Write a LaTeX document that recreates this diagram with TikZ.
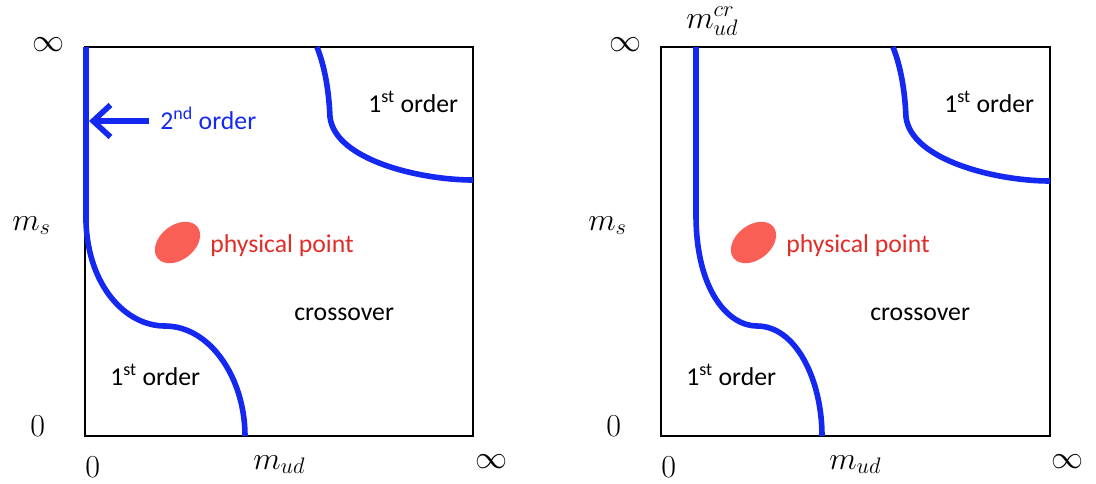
\RequirePackage{fix-cm}
\documentclass[tikz,border=0pt]{standalone}
\usepackage[no-math]{fontspec}
\setmainfont{Carlito}
\usetikzlibrary{arrows.meta}
\definecolor{curveblue}{RGB}{20,40,240}
\definecolor{ptred}{RGB}{225,45,40}
\definecolor{blobred}{RGB}{250,95,85}
\begin{document}
\begin{tikzpicture}[x=0.75pt,y=-0.75pt,
  frame/.style={draw=black,line width=2.1pt},
  transition/.style={draw=curveblue,line width=4.2pt},
  lbl/.style={font=\fontsize{19.3}{23}\selectfont,inner sep=0pt},
  mlbl/.style={font=\fontsize{24}{28}\selectfont,inner sep=0pt},
  blob/.style={fill=blobred},
  pointer/.style={draw=curveblue,line width=4.2pt,-{Straight Barb[length=13pt,width=24pt]}}]
\useasboundingbox (0,0) rectangle (1096,483);

% ---------------- left panel ----------------
\draw[frame] (85,47) rectangle (473,436);
\draw[transition] (86,47) -- (86,222) .. controls (88,285) and (125,326) .. (165,326)
      .. controls (210,326) and (245,378) .. (245,436);
\draw[transition] (317,47) .. controls (326,70) and (329,95) .. (330,117)
      .. controls (335,160) and (420,180) .. (473,180);
\fill[blob,rotate around={38:(177.5,242.5)}] (177.5,242.5) ellipse [x radius=19pt,y radius=13pt];

\node[lbl,anchor=base west,text=curveblue] (so) at (160,129) {2\textsuperscript{nd} order};
\coordinate (soline) at (89,121);
\draw[pointer] (149,121) -- (soline);
\node[lbl,anchor=base west] (ftl) at (368,112) {1\textsuperscript{st} order};
\node[lbl,anchor=base west] (fbl) at (110,385) {1\textsuperscript{st} order};
\node[lbl,anchor=base west,text=ptred] (ppl) at (210,252) {physical point};
\node[lbl,anchor=base west] (col) at (294,320) {crossover};

\node[mlbl] (infl) at (48,45) {$\infty$};
\node[mlbl,anchor=base west] (msl) at (12,230) {$m_s$};
\node[mlbl,anchor=base west] (zl) at (30,436) {$0$};
\node[mlbl,anchor=base west] (zbl) at (85,477) {$0$};
\node[mlbl,anchor=base west] (mudl) at (253,469) {$m_{ud}$};
\node[mlbl] (infbl) at (491,462) {$\infty$};

% ---------------- right panel ----------------
\draw[frame] (661,47) rectangle (1050,436);
\draw[transition] (696,47) -- (696,215) .. controls (696,290) and (728,326) .. (757,326)
      .. controls (796,326) and (822,380) .. (822,436);
\draw[transition] (893,47) .. controls (902,70) and (905,95) .. (906,117)
      .. controls (911,160) and (996,181) .. (1050,181);
\fill[blob,rotate around={38:(753.5,242.5)}] (753.5,242.5) ellipse [x radius=19pt,y radius=13pt];

\node[lbl,anchor=base west] (ftr) at (944,112) {1\textsuperscript{st} order};
\node[lbl,anchor=base west] (fbr) at (686,385) {1\textsuperscript{st} order};
\node[lbl,anchor=base west,text=ptred] (ppr) at (786,252) {physical point};
\node[lbl,anchor=base west] (cor) at (870,320) {crossover};

\node[mlbl] (infr) at (625,45) {$\infty$};
\node[mlbl,anchor=base west] (mcr) at (686,28) {$m_{ud}^{cr}$};
\node[mlbl,anchor=base west] (msr) at (588,230) {$m_s$};
\node[mlbl,anchor=base west] (zr) at (606,436) {$0$};
\node[mlbl,anchor=base west] (zbr) at (661,477) {$0$};
\node[mlbl,anchor=base west] (mudr) at (829,469) {$m_{ud}$};
\node[mlbl] (infbr) at (1067,462) {$\infty$};
\end{tikzpicture}
\end{document}
